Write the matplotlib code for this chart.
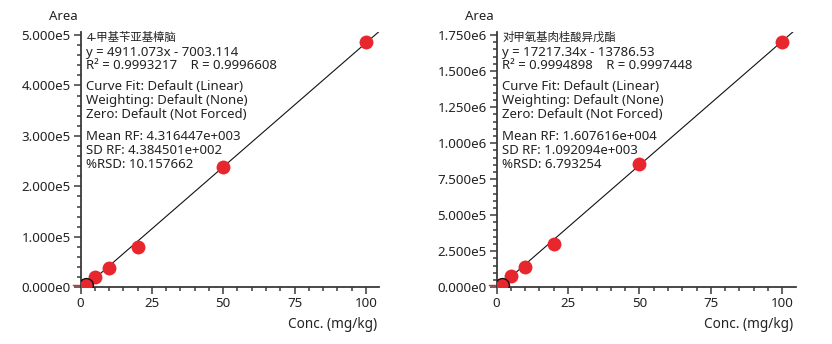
import numpy as np
import matplotlib
matplotlib.use("Agg")
import matplotlib.pyplot as plt
from matplotlib.ticker import MultipleLocator, FuncFormatter

plt.rcParams['font.family'] = ['Noto Sans', 'Noto Sans CJK SC', 'DejaVu Sans']

# calibration levels (mg/kg) and measured peak areas
conc = [2, 5, 10, 20, 50, 100]
area_a = [4600, 19500, 38500, 80000, 238500, 486000]
area_b = [17000, 76000, 143000, 299000, 858000, 1705000]

names = ["4-甲基苄亚基樟脑", "对甲氧基肉桂酸异戊酯"]
slopes = [4911.073, 17217.34]
intercepts = [-7003.114, -13786.53]
r2 = ["0.9993217", "0.9994898"]
r = ["0.9996608", "0.9997448"]
mean_rf = ["4.316447e+003", "1.607616e+004"]
sd_rf = ["4.384501e+002", "1.092094e+003"]
rsd = ["10.157662", "6.793254"]
eq_text = ["y = 4911.073x - 7003.114", "y = 17217.34x - 13786.53"]

ymax = [5.065e5, 1.773e6]
ymajor = [1e5, 2.5e5]
yminor = [2e4, 5e4]
areas = [area_a, area_b]

dark = "#3a3a3a"
red = "#e8262d"

fig = plt.figure(figsize=(8.32, 3.44), dpi=100)
lefts = [80.5 / 832, 496.5 / 832]
widths = [298.5 / 832, 299 / 832]

def sci(v, pos):
    if v == 0:
        return "0.000e0"
    e = int(np.floor(np.log10(abs(v))))
    return "%.3fe%d" % (v / 10 ** e, e)

for i in range(2):
    ax = fig.add_axes([lefts[i], 1 - 287.3 / 344, widths[i], 255.6 / 344])
    ax.set_xlim(0, 104.6)
    ax.set_ylim(0, ymax[i])
    for s in ["top", "right"]:
        ax.spines[s].set_visible(False)
    for s in ["left", "bottom"]:
        ax.spines[s].set_color(dark)
        ax.spines[s].set_linewidth(1.3)

    ax.xaxis.set_major_locator(MultipleLocator(25))
    ax.xaxis.set_minor_locator(MultipleLocator(5))
    ax.yaxis.set_major_locator(MultipleLocator(ymajor[i]))
    ax.yaxis.set_minor_locator(MultipleLocator(yminor[i]))
    ax.yaxis.set_major_formatter(FuncFormatter(sci))
    ax.tick_params(which="major", length=5, width=1.1, color=dark,
                   labelsize=9.6, labelcolor="#222222", pad=2)
    ax.tick_params(which="minor", length=3, width=1.1, color=dark)

    # regression line from the reported equation
    x0 = -intercepts[i] / slopes[i]
    xs = np.array([x0, 104.6])
    ax.plot(xs, slopes[i] * xs + intercepts[i], color="#111111", lw=0.8, zorder=3)

    ax.scatter(conc[1:], areas[i][1:], s=100, color=red, zorder=4, linewidths=0)
    # excluded low point: red dot with black ring
    ax.scatter(conc[:1], areas[i][:1], s=100, color=red, edgecolors="#111111",
               linewidths=1.0, zorder=5)
    ax.plot([-0.025, 0], [areas[i][0], areas[i][0]], color=red, lw=1.0,
            transform=ax.get_yaxis_transform(), clip_on=False)

    lines = [
        (names[i], 38, 8.2), (eq_text[i], 52, 9.5),
        ("R² = %s    R = %s" % (r2[i], r[i]), 65.7, 9.5),
        ("Curve Fit: Default (Linear)", 86, 9.5),
        ("Weighting: Default (None)", 100, 9.5),
        ("Zero: Default (Not Forced)", 114, 9.5),
        ("Mean RF: %s" % mean_rf[i], 136, 9.5),
        ("SD RF: %s" % sd_rf[i], 150, 9.5),
        ("%%RSD: %s" % rsd[i], 164, 9.5),
    ]
    for txt, yp, fs in lines:
        ax.annotate(txt, xy=(0, 1), xycoords="axes fraction",
                    xytext=(6, -(yp - 31.7)), textcoords="offset pixels",
                    va="center", ha="left", fontsize=fs, color="#222222")

    ax.annotate("Area", xy=(0, 1), xycoords="axes fraction",
                xytext=(-17, 31.7 - 16), textcoords="offset pixels",
                va="center", ha="center", fontsize=9.5, color="#222222")
    ax.annotate("Conc. (mg/kg)", xy=(1, 0), xycoords="axes fraction",
                xytext=(-2, -(324 - 287.3)), textcoords="offset pixels",
                va="center", ha="right", fontsize=9.8, color="#222222")

fig.savefig("out.png", dpi=100)
